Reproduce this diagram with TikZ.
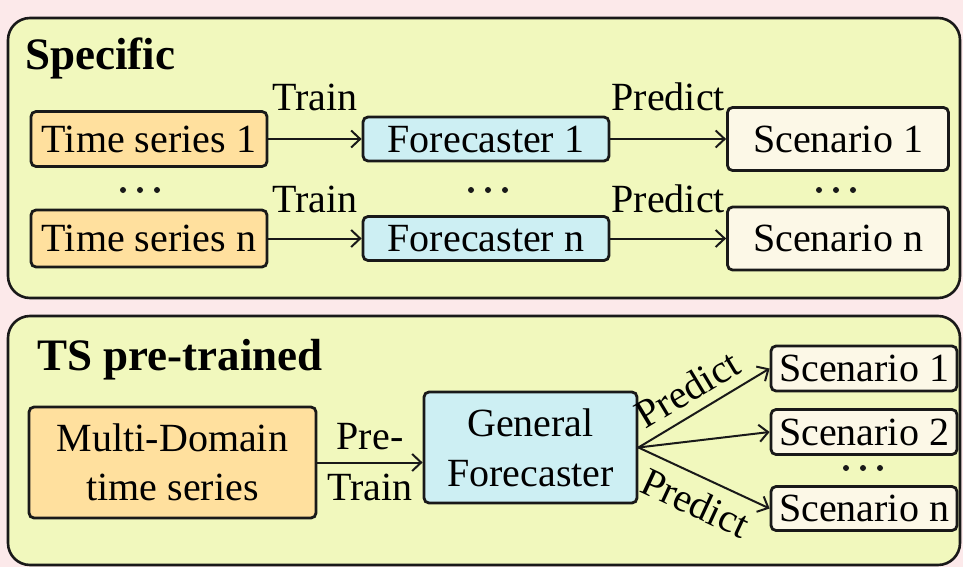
\documentclass[tikz,border=0pt]{standalone}
\usepackage{fontspec}
\setmainfont{Liberation Serif}
\newfontfamily\timesface{Liberation Serif}
\usetikzlibrary{arrows.meta}

\definecolor{bgpink}{RGB}{252,233,234}
\definecolor{panelfill}{RGB}{241,248,189}
\definecolor{seriesfill}{RGB}{255,224,158}
\definecolor{modelfill}{RGB}{205,239,243}
\definecolor{scenfill}{RGB}{252,248,231}
\definecolor{ink}{RGB}{25,25,25}

\tikzset{
  panel/.style={draw=ink, line width=2.6pt, rounded corners=22pt, fill=panelfill},
  box/.style={draw=ink, line width=2.8pt, rounded corners=5pt, inner sep=0pt, align=center},
  seriesbox/.style={box, fill=seriesfill},
  modelbox/.style={box, fill=modelfill},
  scenbox/.style={box, fill=scenfill},
  flow/.style={draw=ink, line width=2pt, -{Straight Barb[length=9pt,width=17pt,line width=2pt]}},
  lbl/.style={inner sep=0pt},
  heading/.style={inner sep=0pt, anchor=base west, font=\timesface\fontsize{45}{50}\selectfont\bfseries},
  pics/ellipsis/.style={code={
    \fill[ink] (-17,0) circle (3pt);
    \fill[ink] (0,0) circle (3pt);
    \fill[ink] (17,0) circle (3pt);
  }},
}

\begin{document}
\begin{tikzpicture}[x=1pt, y=-1pt, font=\timesface\fontsize{40}{50}\selectfont]
  % page and canvas
  \fill[bgpink] (0,0) rectangle (963,567);
  \useasboundingbox (0,0) rectangle (963,567);

  % ---------------- specific forecasters ----------------
  \draw[panel] (8,18) rectangle (960,298);
  \node[heading] (h1) at (25,70) {Specific};

  \node[seriesbox, minimum width=236pt, minimum height=55pt] (ts1) at (149,139) {Time series 1};
  \node[seriesbox, minimum width=236pt, minimum height=57pt] (tsn) at (149,238.5) {Time series n};
  \node[modelbox, minimum width=246pt, minimum height=44pt] (fc1) at (486,139) {Forecaster 1};
  \node[modelbox, minimum width=246pt, minimum height=44pt] (fcn) at (486,238.5) {Forecaster n};
  \node[scenbox, minimum width=221pt, minimum height=63pt] (sc1) at (838,139) {Scenario 1};
  \node[scenbox, minimum width=221pt, minimum height=63pt] (scn) at (838,238.5) {Scenario n};

  \pic at (140,190) {ellipsis};
  \pic at (488,190) {ellipsis};
  \pic at (836,190) {ellipsis};

  \draw[flow] (ts1) -- node[lbl, above=27pt] {Train} (fc1);
  \draw[flow] (tsn) -- node[lbl, above=25pt] {Train} (fcn);
  \draw[flow] (fc1) -- node[lbl, above=27pt] {Predict} (sc1);
  \draw[flow] (fcn) -- node[lbl, above=25pt] {Predict} (scn);

  % ---------------- pre-trained forecaster ----------------
  \draw[panel] (8,316) rectangle (960,565);
  \node[heading] (h2) at (37,370) {TS pre-trained};

  \node[seriesbox, minimum width=287pt, minimum height=111pt,
        font=\timesface\fontsize{40}{49}\selectfont] (md) at (172.5,462.5) {Multi-Domain\\time series};
  \node[modelbox, minimum width=213pt, minimum height=111pt,
        font=\timesface\fontsize{40}{50}\selectfont] (gf) at (530.5,447.5) {General\\Forecaster};

  \node[scenbox, minimum width=186pt, minimum height=45pt] (s1) at (864,368.5) {Scenario 1};
  \node[scenbox, minimum width=186pt, minimum height=45pt] (s2) at (864,432) {Scenario 2};
  \node[scenbox, minimum width=186pt, minimum height=44pt] (sn) at (864,508.5) {Scenario n};
  \pic at (863,468) {ellipsis};

  \draw[flow] (md) -- node[lbl, align=center, font=\timesface\fontsize{40}{51}\selectfont] {Pre-\\Train} (gf.west |- md);

  \coordinate (gfout) at (gf.east);
  \draw[flow] (gfout) -- node[lbl, sloped, above=10pt, pos=0.47] {Predict} (s1.west);
  \draw[flow] (gfout) -- (s2.west);
  \draw[flow] (gfout) -- node[lbl, sloped, below=11pt, pos=0.52] {Predict} (sn.west);
\end{tikzpicture}
\end{document}
